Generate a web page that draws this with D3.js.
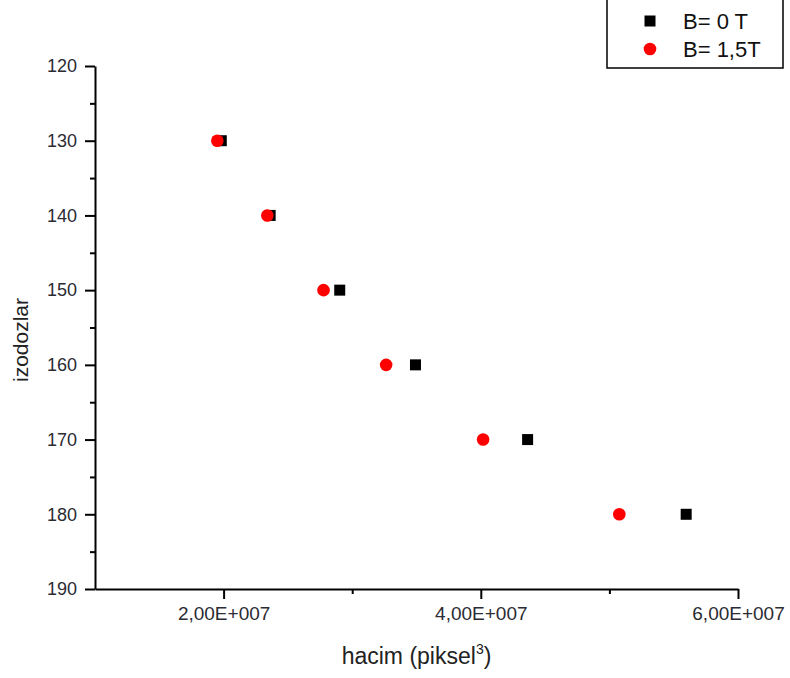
<!DOCTYPE html>
<html>
<head>
<meta charset="utf-8">
<script src="https://d3js.org/d3.v7.min.js"></script>
<style>
body { margin: 0; background: #fff; }
svg { display: block; font-family: "Liberation Sans", Arial, sans-serif; }
.axis path, .axis line { stroke: #000; stroke-width: 2; }
.axis text { fill: #2b2b33; font-size: 18px; }
.xaxis text { font-size: 19px; }
</style>
</head>
<body>
<script>
// izodoz values (y) and volumes (x) for both fields
var doses = [130, 140, 150, 160, 170, 180]
var vol0T = [1.982e7, 2.362e7, 2.903e7, 3.492e7, 4.364e7, 5.597e7]
var vol15T = [1.951e7, 2.340e7, 2.777e7, 3.264e7, 4.018e7, 5.077e7]

var xTicks = [2e7, 4e7, 6e7]
var xTickLabels = ["2,00E+007", "4,00E+007", "6,00E+007"]
var xMinor = [3e7, 5e7]
var yTicks = [120, 130, 140, 150, 160, 170, 180, 190]
var yMinor = [125, 135, 145, 155, 165, 175, 185]

var w = 790
var h = 678

var svg = d3.select("body")
            .append("svg")
            .attr("width", w)
            .attr("height", h)

var x = d3.scaleLinear().domain([1e7, 6e7]).range([95, 738])
var y = d3.scaleLinear().domain([120, 190]).range([66, 589])

// minor ticks first
svg.append("g")
   .attr("class", "axis")
   .attr("transform", "translate(0," + y(190) + ")")
   .call(d3.axisBottom(x).tickValues(xMinor).tickSize(5).tickFormat(""))
   .select(".domain").remove()

svg.append("g")
   .attr("class", "axis")
   .attr("transform", "translate(" + x(1e7) + ",0)")
   .call(d3.axisLeft(y).tickValues(yMinor).tickSize(5).tickFormat(""))
   .select(".domain").remove()

svg.append("g")
   .attr("class", "axis xaxis")
   .attr("transform", "translate(0," + y(190) + ")")
   .call(d3.axisBottom(x).tickValues(xTicks).tickSize(10).tickSizeOuter(0)
           .tickPadding(8)
           .tickFormat(function(d, i){ return xTickLabels[i] }))

svg.append("g")
   .attr("class", "axis")
   .attr("transform", "translate(" + x(1e7) + ",0)")
   .call(d3.axisLeft(y).tickValues(yTicks).tickSize(10).tickSizeOuter(0)
           .tickPadding(8))

// axis titles
svg.append("text")
   .attr("x", (x(1e7) + x(6e7)) / 2)
   .attr("y", 664)
   .attr("text-anchor", "middle")
   .attr("font-size", 23)
   .attr("fill", "#222")
   .html('hacim (piksel<tspan dy="-10" font-size="14">3</tspan><tspan dy="10">)</tspan>')

svg.append("text")
   .attr("transform", "translate(28,340) rotate(-90)")
   .attr("text-anchor", "middle")
   .attr("font-size", 21)
   .attr("fill", "#222")
   .text("izodozlar")

// points
svg.selectAll("rect.p0")
   .data(doses)
   .enter()
   .append("rect")
   .attr("class", "p0")
   .attr("x", function(d, i){ return x(vol0T[i]) - 5.5 })
   .attr("y", function(d){ return y(d) - 5.5 })
   .attr("width", 11)
   .attr("height", 11)
   .attr("fill", "#000")

svg.selectAll("circle.p1")
   .data(doses)
   .enter()
   .append("circle")
   .attr("class", "p1")
   .attr("cx", function(d, i){ return x(vol15T[i]) })
   .attr("cy", function(d){ return y(d) })
   .attr("r", 6.3)
   .attr("fill", "#ff0000")

// legend
var lg = svg.append("g")
lg.append("rect")
  .attr("x", 607)
  .attr("y", -3)
  .attr("width", 176)
  .attr("height", 71)
  .attr("fill", "#fff")
  .attr("stroke", "#000")
  .attr("stroke-width", 1.5)
lg.append("rect")
  .attr("x", 644.5).attr("y", 15.5)
  .attr("width", 11).attr("height", 11)
  .attr("fill", "#000")
lg.append("circle")
  .attr("cx", 650).attr("cy", 49)
  .attr("r", 6.3)
  .attr("fill", "#ff0000")
lg.append("text")
  .attr("x", 683).attr("y", 29)
  .attr("font-size", 22)
  .attr("fill", "#111")
  .text("B= 0 T")
lg.append("text")
  .attr("x", 683).attr("y", 57)
  .attr("font-size", 22)
  .attr("fill", "#111")
  .text("B= 1,5T")
</script>
</body>
</html>
